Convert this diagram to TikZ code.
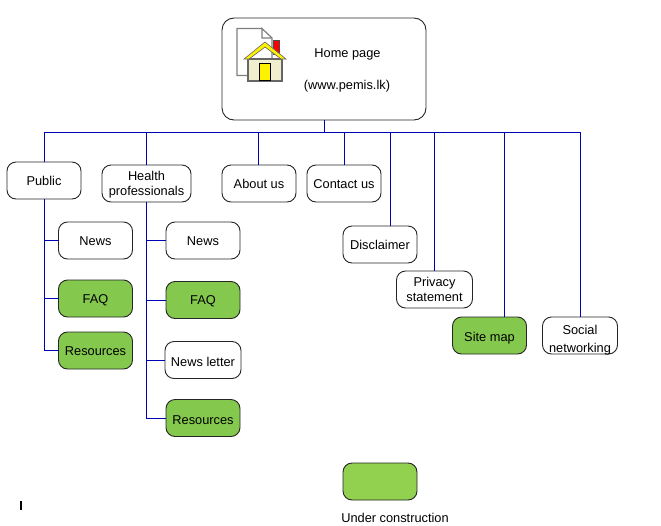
\documentclass[tikz,border=0pt]{standalone}
\usepackage{fontspec}
\setmainfont{Liberation Sans}
\usetikzlibrary{positioning, calc}
\definecolor{linkblue}{HTML}{0000B4}
\definecolor{todogreen}{HTML}{84C94E}
\definecolor{legendgreen}{HTML}{92D050}
\definecolor{housewall}{HTML}{F0EECC}
\tikzset{
	labeltext/.style={font=\fontsize{12.8}{15}\selectfont},
	pagebox/.style={rectangle, draw=black!85, line width=0.9pt, rounded corners=9pt, fill=white, minimum width=74pt, minimum height=37pt, inner sep=0pt, outer sep=0pt, align=center, labeltext},
	todobox/.style={pagebox, fill=todogreen},
	oneline/.style={text height=9.5pt, text depth=0pt},
	lowline/.style={text height=12pt, text depth=0pt},
	link/.style={draw=linkblue, line width=1pt}
}
\begin{document}
\begin{tikzpicture}[x=1pt, y=1pt]
			\useasboundingbox (0, 0) rectangle (661, -525);
			\node[pagebox, minimum width=204pt, minimum height=102pt, rounded corners=12pt] (home) at (324, -69) {};
			\node[labeltext, oneline] (hometitle) at (347.5, -52.5) {Home page};
			\node[labeltext, oneline] (homeurl) at (347, -85) {(www.pemis.lk)};
			
			\node[pagebox, oneline] (public) at (44, -180.5) {Public};
			\node[pagebox, minimum width=89pt, text depth=0pt] (health) at (146.5, -183.5) {Health\\professionals};
			\node[pagebox, oneline] (about) at (259, -183.5) {About us};
			\node[pagebox, oneline] (contact) at (344, -183.5) {Contact us};
			\node[pagebox, oneline] (disclaimer) at (380, -244.5) {Disclaimer};
			\node[pagebox, minimum width=76pt] (privacy) at (434.5, -289.5) {Privacy\\statement};
			\node[todobox, lowline] (sitemap) at (489.5, -335.5) {Site map};
			\node[pagebox, minimum width=75pt] (social) at (580, -335.5) {};
			\node[labeltext, align=center, font=\fontsize{12.8}{18}\selectfont] (socialtext) at (580, -340.5) {Social\\networking};
			
			\node[pagebox, oneline] (pubnews) at (95.5, -240.5) {News};
			\node[todobox, oneline, below=21pt of pubnews] (pubfaq) {FAQ};
			\node[todobox, oneline, below=15pt of pubfaq] (pubres) {Resources};
			
			\node[pagebox, oneline] (hpnews) at (203, -240.5) {News};
			\node[todobox, oneline, below=22.5pt of hpnews] (hpfaq) {FAQ};
			\node[pagebox, lowline, below=23pt of hpfaq, minimum width=76pt] (hpletter) {News letter};
			\node[todobox, lowline, below=21pt of hpletter] (hpres) {Resources};
			
			\node[pagebox, fill=legendgreen] (legend) at (380, -481.5) {};
			\node[labeltext, oneline] (legendtext) at (395, -518) {Under construction};
			\node[fill=black, inner sep=0pt, minimum width=1.8pt, minimum height=9pt] (cursor) at (21, -505.5) {};
			
			% small page and house in the home box
			\draw[gray, line width=1.2pt, fill=white] (262, -28.5) -- (237, -28.5) -- (237, -75.5) -- (272, -75.5) -- (272, -38) -- (262, -28.5) -- (262, -38) -- (272, -38);
			\draw[black!70, fill=red] (273, -40) rectangle (279, -54);
			\draw[gray!80!black, line width=1.1pt, fill=housewall] (248, -59) rectangle (282, -81);
			\draw[black!60, line width=0.6pt, fill=yellow] (244, -59) -- (265, -42) -- (286, -59) -- (281, -59) -- (265, -47) -- (249, -59) -- cycle;
			\draw[black, line width=0.7pt, fill=yellow] (259.5, -63) rectangle (270.5, -80);
			
			\coordinate (busleft) at (44, -132);
			\coordinate (bushealth) at (146.5, -132);
			\coordinate (busabout) at (258, -132);
			\coordinate (buscontact) at (344, -132);
			\coordinate (busdisclaimer) at (390, -132);
			\coordinate (busprivacy) at (434.5, -132);
			\coordinate (bussitemap) at (504.5, -132);
			\coordinate (busright) at (580, -132);
			
			\draw[link] (busleft) -- (busright);
			\draw[link] (home.south) -- (home.south |- busleft);
			\draw[link] (busleft) -- (public);
			\draw[link] (bushealth) -- (health);
			\draw[link] (busabout) -- (busabout |- about.north);
			\draw[link] (buscontact) -- (buscontact |- contact.north);
			\draw[link] (busdisclaimer) -- (busdisclaimer |- disclaimer.north);
			\draw[link] (busprivacy) -- (privacy);
			\draw[link] (bussitemap) -- (bussitemap |- sitemap.north);
			\draw[link] (busright) -- (social);
			
			\draw[link] (public.south) |- (pubres.west);
			\draw[link] (public.south |- pubnews.west) -- (pubnews.west);
			\draw[link] (public.south |- pubfaq.west) -- (pubfaq.west);
			
			\draw[link] (health.south) |- (hpres.west);
			\draw[link] (health.south |- hpnews.west) -- (hpnews.west);
			\draw[link] (health.south |- hpfaq.west) -- (hpfaq.west);
			\draw[link] (health.south |- hpletter.west) -- (hpletter.west);
		\end{tikzpicture}
\end{document}
